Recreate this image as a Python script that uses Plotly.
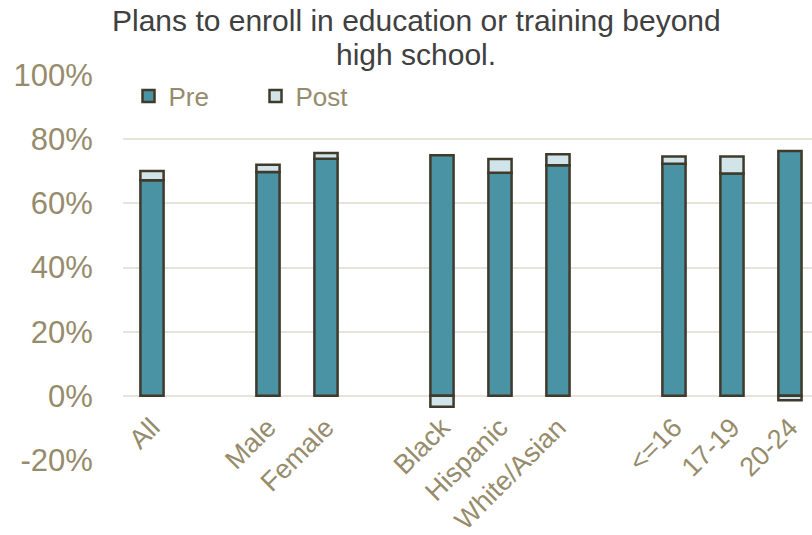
import plotly.graph_objects as go

# ---- data (percent) ----
groups = [["All"], ["Male", "Female"], ["Black", "Hispanic", "White/Asian"], ["<=16", "17-19", "20-24"]]
categories = ["All", "Male", "Female", "Black", "Hispanic", "White/Asian", "<=16", "17-19", "20-24"]
pre = [67.2, 69.8, 73.9, 75.0, 69.5, 71.9, 72.3, 69.3, 76.3]
post = [2.9, 2.2, 1.8, -3.4, 4.3, 3.4, 2.3, 5.3, -1.4]
y_ticks = [-20, 0, 20, 40, 60, 80, 100]
y_ticktext = ["-20%", "0%", "20%", "40%", "60%", "80%", "100%"]
title_lines = ["Plans to enroll in education or training beyond", "high school."]

# positions: one empty slot between groups
xpos = []
slot = 0
for gi, g in enumerate(groups):
    if gi > 0:
        slot += 1
    for _ in g:
        xpos.append(slot)
        slot += 1

FONT = "Liberation Sans, Arial, sans-serif"
TAN = "#968C6C"
OUTLINE = "#3F3A2B"
GRID = "#E7E2DA"

W, H = 812, 535
ML, MR, MT, MB = 123, 0, 75, 75
PH = H - MT - MB

fig = go.Figure()
fig.add_bar(x=xpos, y=pre, name="Pre", width=0.4,
            marker=dict(color="#4A93A5", line=dict(color=OUTLINE, width=2.5)))
fig.add_bar(x=xpos, y=post, name="Post", width=0.4,
            marker=dict(color="#D1E4EA", line=dict(color=OUTLINE, width=2.5)))

ymin, ymax = -20, 100
title_y = [21, 54]  # pixel centres of the two title lines
annotations = [
    dict(text=t, xref="paper", yref="paper", x=(416 - ML) / (W - ML - MR), xanchor="center",
         y=((H - MB) - yc) / PH, yanchor="middle", showarrow=False,
         font=dict(size=30, color="#404040", family=FONT))
    for t, yc in zip(title_lines, title_y)
]

fig.update_layout(
    width=W, height=H,
    barmode="relative",
    plot_bgcolor="white", paper_bgcolor="white",
    margin=dict(l=ML, r=MR, t=MT, b=MB, autoexpand=False),
    font=dict(family=FONT, color=TAN),
    annotations=annotations,
    showlegend=True,
    legend=dict(orientation="h", x=0.008, xanchor="left", y=((H - MB) - 96) / PH, yanchor="middle",
                font=dict(size=26, color=TAN, family=FONT), bgcolor="rgba(0,0,0,0)",
                entrywidth=82, entrywidthmode="pixels", traceorder="normal"),
    xaxis=dict(range=[-0.5, 11.38], tickvals=xpos, ticktext=categories,
               tickangle=-45, tickfont=dict(size=27, color=TAN, family=FONT),
               showgrid=False, showline=False, zeroline=False, automargin=False,
               anchor="free", position=(0 - ymin) / (ymax - ymin),
               ticks="outside", ticklen=4, tickcolor="rgba(0,0,0,0)"),
    yaxis=dict(range=[ymin, ymax], tickvals=y_ticks, ticktext=y_ticktext,
               tickfont=dict(size=31, color=TAN, family=FONT), automargin=False,
               showgrid=True, gridcolor=GRID, gridwidth=2,
               zeroline=True, zerolinecolor=GRID, zerolinewidth=2,
               showline=False, ticks="outside", ticklen=23, tickcolor="rgba(0,0,0,0)"),
)

fig.write_html("out.html", config={"displayModeBar": False},
               post_script="document.body.style.margin='0';document.body.style.overflow='hidden';")
